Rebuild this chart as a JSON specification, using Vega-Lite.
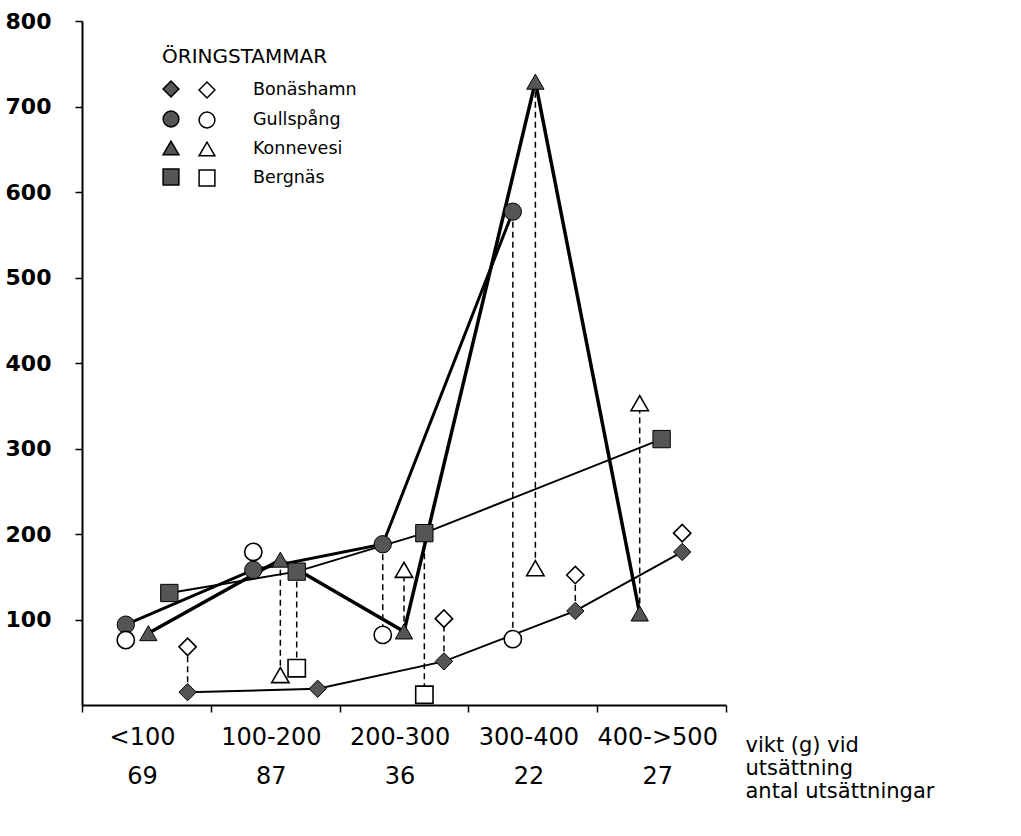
{
  "$schema": "https://vega.github.io/schema/vega-lite/v6.json",
  "width": 644,
  "height": 684,
  "autosize": {"type": "none"},
  "padding": {"left": 82, "top": 21, "right": 295, "bottom": 131},
  "background": "white",
  "config": {
    "view": {"stroke": null},
    "axis": {"domainColor": "black", "tickColor": "black", "labelColor": "black", "titleColor": "black", "grid": false}
  },
  "data": {
    "values": [
      {"series": "Bonäshamn", "x": 0.82, "filled": 15, "open": 68},
      {"series": "Bonäshamn", "x": 1.83, "filled": 19, "open": null},
      {"series": "Bonäshamn", "x": 2.81, "filled": 51, "open": 101},
      {"series": "Bonäshamn", "x": 3.83, "filled": 110, "open": 152},
      {"series": "Bonäshamn", "x": 4.66, "filled": 179, "open": 201},
      {"series": "Gullspång", "x": 0.34, "filled": 94, "open": 76},
      {"series": "Gullspång", "x": 1.33, "filled": 158, "open": 179},
      {"series": "Gullspång", "x": 2.335, "filled": 188, "open": 82},
      {"series": "Gullspång", "x": 3.345, "filled": 577, "open": 77},
      {"series": "Konnevesi", "x": 0.515, "filled": 84, "open": null},
      {"series": "Konnevesi", "x": 1.54, "filled": 170, "open": 35},
      {"series": "Konnevesi", "x": 2.5, "filled": 86, "open": 158},
      {"series": "Konnevesi", "x": 3.52, "filled": 729, "open": 160},
      {"series": "Konnevesi", "x": 4.33, "filled": 107, "open": 353},
      {"series": "Bergnäs", "x": 0.678, "filled": 131, "open": null},
      {"series": "Bergnäs", "x": 1.667, "filled": 156, "open": 43},
      {"series": "Bergnäs", "x": 2.658, "filled": 201, "open": 12},
      {"series": "Bergnäs", "x": 4.5, "filled": 311, "open": null}
    ]
  },
  "encoding": {
    "x": {
      "field": "x", "type": "quantitative",
      "scale": {"domain": [0, 5], "nice": false, "zero": false},
      "axis": {
        "values": [0, 1, 2, 3, 4, 5],
        "domainWidth": 2,
        "tickSize": 7,
        "tickWidth": 1.5,
        "labelExpr": "datum.value == 0 ? ['<100','69'] : datum.value == 1 ? ['100-200','87'] : datum.value == 2 ? ['200-300','36'] : datum.value == 3 ? ['300-400','22'] : datum.value == 4 ? ['400->500','27'] : ''",
        "labelOffset": 60,
        "labelAlign": "center",
        "labelBaseline": "top",
        "labelPadding": 13,
        "labelLineHeight": 39,
        "labelFont": "DejaVu Sans",
        "labelFontSize": 24,
        "labelOverlap": false,
        "labelFlush": false,
        "title": ["vikt (g) vid", "utsättning", "antal utsättningar"],
        "titleX": 663,
        "titleY": 29,
        "titleAlign": "left",
        "titleAnchor": null,
        "titleBaseline": "top",
        "titleFont": "DejaVu Sans",
        "titleFontSize": 21,
        "titleFontWeight": "normal",
        "titleLineHeight": 23
      }
    },
    "y": {
      "field": "filled", "type": "quantitative",
      "scale": {"domain": [0, 800], "nice": false},
      "axis": {
        "values": [100, 200, 300, 400, 500, 600, 700, 800],
        "domainWidth": 2,
        "tickSize": 7,
        "tickWidth": 1.5,
        "labelPadding": 24,
        "labelFont": "DejaVu Sans",
        "labelFontWeight": "bold",
        "labelFontSize": 22,
        "title": null
      }
    }
  },
  "layer": [
    {
      "transform": [{"filter": "datum.open != null"}],
      "mark": {"type": "rule", "strokeDash": [6, 4], "strokeWidth": 1.5, "color": "black"},
      "encoding": {"y2": {"field": "open"}}
    },
    {
      "mark": {"type": "line", "color": "black"},
      "encoding": {
        "detail": {"field": "series"},
        "order": {"field": "x"},
        "strokeWidth": {
          "field": "series", "type": "nominal",
          "scale": {"type": "ordinal", "domain": ["Bonäshamn", "Gullspång", "Konnevesi", "Bergnäs"], "range": [2, 3, 3.5, 2]},
          "legend": null
        }
      }
    },
    {
      "mark": {"type": "point", "filled": true, "fill": "#555555", "stroke": "black", "strokeWidth": 1, "size": 300, "opacity": 1},
      "encoding": {
        "shape": {
          "field": "series", "type": "nominal",
          "scale": {"domain": ["Bonäshamn", "Gullspång", "Konnevesi", "Bergnäs"], "range": ["diamond", "circle", "triangle-up", "square"]},
          "legend": {
            "orient": "none", "legendX": 80, "legendY": 26, "padding": 0,
            "title": "ÖRINGSTAMMAR", "titleFont": "DejaVu Sans", "titleFontSize": 20, "titleFontWeight": "normal", "titlePadding": 13,
            "labelExpr": "''", "labelOffset": 0,
            "symbolSize": 250,
            "labelFontSize": 17.5, "rowPadding": 8,
            "encode": {"symbols": {"update": {"fill": {"value": "#555555"}, "stroke": {"value": "black"}, "strokeWidth": {"value": 1}, "opacity": {"value": 1}}}}
          }
        }
      }
    },
    {
      "transform": [{"filter": "datum.open != null"}, {"calculate": "datum.series", "as": "stam"}],
      "mark": {"type": "point", "filled": true, "fill": "white", "stroke": "black", "strokeWidth": 1.6, "size": 300, "opacity": 1},
      "encoding": {
        "y": {"field": "open", "type": "quantitative"},
        "shape": {
          "field": "stam", "type": "nominal",
          "scale": {"domain": ["Bonäshamn", "Gullspång", "Konnevesi", "Bergnäs"], "range": ["diamond", "circle", "triangle-up", "square"]},
          "legend": {
            "orient": "none", "legendX": 116, "legendY": 60, "padding": 0,
            "title": null,
            "labelFont": "DejaVu Sans", "labelFontSize": 17.5, "labelColor": "black", "labelOffset": 37,
            "symbolSize": 250,
            "rowPadding": 8,
            "encode": {"symbols": {"update": {"fill": {"value": "white"}, "stroke": {"value": "black"}, "strokeWidth": {"value": 1.5}, "opacity": {"value": 1}}}}
          }
        }
      }
    }
  ],
  "resolve": {"scale": {"shape": "independent"}, "legend": {"shape": "independent"}}
}
